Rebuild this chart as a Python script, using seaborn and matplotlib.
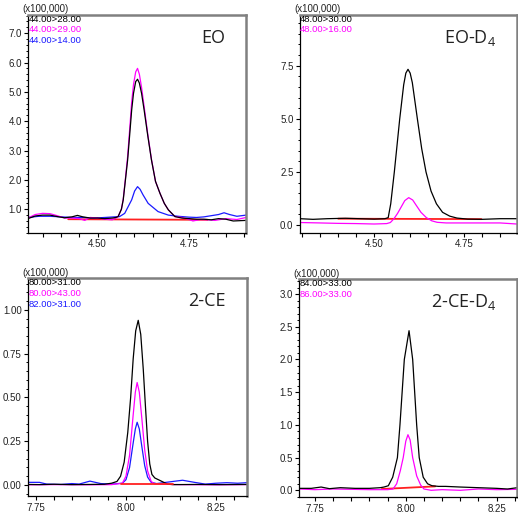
import matplotlib
matplotlib.use("Agg")
import matplotlib.pyplot as plt
import matplotlib.ticker as mticker
import seaborn as sns

# ---- EO (m/z 44 transitions), x = retention time (min), y = intensity (x100,000)
eo_black_x = [4.310, 4.330, 4.350, 4.370, 4.390, 4.410, 4.430, 4.445, 4.460, 4.480, 4.500, 4.520,
              4.540, 4.550, 4.556, 4.565, 4.570, 4.576, 4.582, 4.588, 4.593, 4.598, 4.604, 4.609,
              4.614, 4.620, 4.627, 4.637, 4.647, 4.658, 4.670, 4.682, 4.693, 4.711, 4.730, 4.750,
              4.770, 4.790, 4.810, 4.830, 4.850, 4.870, 4.905]
eo_black_y = [0.68, 0.77, 0.80, 0.80, 0.75, 0.71, 0.74, 0.79, 0.74, 0.70, 0.70, 0.68,
              0.70, 0.72, 0.75, 1.00, 1.32, 2.00, 2.68, 3.60, 4.38, 4.95, 5.35, 5.43,
              5.30, 4.95, 4.38, 3.50, 2.68, 1.95, 1.55, 1.20, 0.98, 0.75, 0.70, 0.68,
              0.66, 0.66, 0.64, 0.68, 0.66, 0.60, 0.62]
eo_magenta_x = [4.310, 4.330, 4.350, 4.370, 4.390, 4.410, 4.430, 4.450, 4.465, 4.480, 4.500, 4.520,
                4.540, 4.550, 4.556, 4.565, 4.570, 4.576, 4.582, 4.588, 4.593, 4.598, 4.604, 4.609,
                4.614, 4.620, 4.627, 4.637, 4.647, 4.658, 4.670, 4.682, 4.693, 4.711, 4.730, 4.750,
                4.760, 4.780, 4.800, 4.820, 4.850, 4.880, 4.905]
eo_magenta_y = [0.70, 0.82, 0.86, 0.85, 0.78, 0.70, 0.70, 0.68, 0.62, 0.72, 0.70, 0.66,
                0.64, 0.70, 0.75, 1.00, 1.35, 2.05, 2.80, 3.80, 4.65, 5.25, 5.68, 5.80,
                5.60, 5.15, 4.50, 3.55, 2.70, 1.95, 1.55, 1.20, 0.98, 0.75, 0.72, 0.65,
                0.60, 0.65, 0.64, 0.62, 0.68, 0.65, 0.72]
eo_blue_x = [4.310, 4.340, 4.370, 4.400, 4.430, 4.460, 4.490, 4.520, 4.545, 4.560, 4.574, 4.593,
             4.601, 4.609, 4.616, 4.624, 4.638, 4.665, 4.693, 4.720, 4.750, 4.770, 4.790, 4.810,
             4.830, 4.845, 4.860, 4.880, 4.905]
eo_blue_y = [0.72, 0.76, 0.76, 0.74, 0.72, 0.72, 0.70, 0.72, 0.74, 0.75, 0.86, 1.32,
             1.62, 1.77, 1.68, 1.49, 1.20, 0.92, 0.80, 0.76, 0.73, 0.72, 0.74, 0.78,
             0.82, 0.88, 0.82, 0.76, 0.80]
eo_red_x = [4.420, 4.800]
eo_red_y = [0.66, 0.64]

# ---- EO-D4 (m/z 48 transitions)
eod4_black_x = [4.294, 4.330, 4.370, 4.420, 4.460, 4.500, 4.530, 4.539, 4.546, 4.556, 4.571, 4.582,
                4.588, 4.594, 4.600, 4.606, 4.620, 4.632, 4.644, 4.658, 4.673, 4.690, 4.710, 4.730,
                4.760, 4.800, 4.850, 4.896]
eod4_black_y = [0.30, 0.27, 0.30, 0.32, 0.30, 0.28, 0.30, 0.35, 1.00, 2.50, 5.00, 6.60,
                7.15, 7.33, 7.15, 6.70, 5.00, 3.60, 2.50, 1.60, 1.00, 0.60, 0.42, 0.33,
                0.28, 0.27, 0.30, 0.30]
eod4_magenta_x = [4.294, 4.350, 4.400, 4.450, 4.500, 4.535, 4.545, 4.555, 4.565, 4.575, 4.585, 4.596,
                  4.607, 4.618, 4.630, 4.645, 4.660, 4.675, 4.700, 4.750, 4.800, 4.850, 4.896]
eod4_magenta_y = [0.12, 0.10, 0.08, 0.07, 0.05, 0.07, 0.12, 0.30, 0.55, 0.85, 1.15, 1.29,
                  1.18, 0.90, 0.60, 0.35, 0.20, 0.13, 0.10, 0.10, 0.10, 0.10, 0.05]
eod4_red_x = [4.400, 4.798]
eod4_red_y = [0.30, 0.28]

# ---- 2-CE (m/z 80/82 transitions)
ce_black_x = [7.729, 7.760, 7.800, 7.850, 7.900, 7.940, 7.960, 7.975, 7.985, 7.995, 8.005, 8.013,
              8.020, 8.027, 8.034, 8.041, 8.048, 8.054, 8.060, 8.066, 8.072, 8.080, 8.090, 8.100,
              8.115, 8.130, 8.200, 8.260, 8.335]
ce_black_y = [0.003, 0.002, 0.004, 0.002, 0.003, 0.004, 0.010, 0.020, 0.050, 0.130, 0.300, 0.500,
              0.720, 0.880, 0.940, 0.860, 0.660, 0.450, 0.250, 0.120, 0.060, 0.040, 0.030, 0.020,
              0.005, 0.002, 0.003, 0.002, 0.003]
ce_magenta_x = [7.729, 7.800, 7.900, 7.960, 7.990, 8.000, 8.010, 8.020, 8.026, 8.031, 8.037, 8.044,
                8.052, 8.060, 8.070, 8.080, 8.150, 8.250, 8.335]
ce_magenta_y = [0.001, 0.002, 0.001, 0.002, 0.010, 0.050, 0.170, 0.400, 0.530, 0.585, 0.530, 0.380,
                0.200, 0.080, 0.020, 0.005, 0.002, 0.001, 0.002]
ce_blue_x = [7.729, 7.760, 7.780, 7.820, 7.850, 7.870, 7.900, 7.930, 7.960, 7.990, 8.000, 8.010,
             8.020, 8.026, 8.031, 8.037, 8.044, 8.052, 8.060, 8.070, 8.085, 8.100, 8.130, 8.157,
             8.190, 8.220, 8.250, 8.280, 8.310, 8.335]
ce_blue_y = [0.015, 0.015, 0.005, 0.003, 0.008, 0.005, 0.022, 0.008, 0.005, 0.010, 0.030, 0.100,
             0.240, 0.320, 0.358, 0.320, 0.220, 0.110, 0.045, 0.015, 0.008, 0.012, 0.020, 0.027,
             0.015, 0.005, 0.010, 0.013, 0.010, 0.013]
ce_red_x = [7.986, 8.131]
ce_red_y = [0.003, 0.003]

# ---- 2-CE-D4 (m/z 84/86 transitions)
ced4_black_x = [7.707, 7.740, 7.767, 7.790, 7.820, 7.860, 7.900, 7.930, 7.940, 7.952, 7.964, 7.977,
                7.984, 7.996, 8.009, 8.019, 8.030, 8.037, 8.048, 8.060, 8.072, 8.090, 8.110, 8.150,
                8.200, 8.250, 8.280, 8.307]
ced4_black_y = [0.03, 0.03, 0.05, 0.025, 0.04, 0.03, 0.03, 0.04, 0.05, 0.07, 0.20, 0.50,
                1.00, 2.00, 2.44, 2.00, 1.00, 0.50, 0.20, 0.10, 0.07, 0.06, 0.06, 0.05,
                0.04, 0.03, 0.02, 0.04]
ced4_magenta_x = [7.707, 7.750, 7.800, 7.850, 7.900, 7.950, 7.965, 7.975, 7.985, 7.993, 8.000, 8.006,
                  8.012, 8.019, 8.030, 8.041, 8.050, 8.070, 8.100, 8.150, 8.200, 8.250, 8.307]
ced4_magenta_y = [0.02, 0.01, 0.02, 0.015, 0.01, 0.01, 0.02, 0.10, 0.30, 0.50, 0.75, 0.85,
                  0.77, 0.50, 0.22, 0.08, 0.02, 0.00, 0.01, 0.00, 0.02, 0.01, 0.015]
ced4_red_x = [7.934, 8.081]
ced4_red_y = [0.02, 0.06]

BLACK, MAGENTA, BLUE, RED = "#000000", "#ff00ff", "#1a1aff", "#ff2020"

panels = [
    dict(pos=[0.0546, 0.5516, 0.4204, 0.4201], xlim=(4.311, 4.905), ylim=(0.20, 7.63),
         xmaj=[4.50, 4.75], xmin=0.05, ymaj=1.0, ymin=0.2, yfmt="%.1f", title="EO",
         traces=[(eo_red_x, eo_red_y, RED, 1.3), (eo_blue_x, eo_blue_y, BLUE, 0.9),
                 (eo_magenta_x, eo_magenta_y, MAGENTA, 0.9), (eo_black_x, eo_black_y, BLACK, 0.9)],
         labels=[("44.00>28.00", BLACK), ("44.00>29.00", MAGENTA), ("44.00>14.00", BLUE)]),
    dict(pos=[0.5792, 0.5516, 0.4183, 0.4201], xlim=(4.294, 4.896), ylim=(-0.36, 9.9),
         xmaj=[4.50, 4.75], xmin=0.05, ymaj=2.5, ymin=0.5, yfmt="%.1f", title="EO-D$_4$",
         traces=[(eod4_red_x, eod4_red_y, RED, 1.3),
                 (eod4_magenta_x, eod4_magenta_y, MAGENTA, 0.9), (eod4_black_x, eod4_black_y, BLACK, 0.9)],
         labels=[("48.00>30.00", BLACK), ("48.00>16.00", MAGENTA)]),
    dict(pos=[0.0546, 0.0443, 0.4217, 0.4195], xlim=(7.729, 8.335), ylim=(-0.063, 1.18),
         xmaj=[7.75, 8.00, 8.25], xmin=0.05, ymaj=0.25, ymin=0.05, yfmt="%.2f", title="2-CE",
         traces=[(ce_blue_x, ce_blue_y, BLUE, 0.9), (ce_magenta_x, ce_magenta_y, MAGENTA, 0.9),
                 (ce_black_x, ce_black_y, BLACK, 0.9), (ce_red_x, ce_red_y, RED, 1.3)],
         labels=[("80.00>31.00", BLACK), ("80.00>43.00", MAGENTA), ("82.00>31.00", BLUE)]),
    dict(pos=[0.5778, 0.0418, 0.4209, 0.4206], xlim=(7.707, 8.307), ylim=(-0.107, 3.23),
         xmaj=[7.75, 8.00, 8.25], xmin=0.05, ymaj=0.5, ymin=0.1, yfmt="%.1f", title="2-CE-D$_4$",
         traces=[(ced4_red_x, ced4_red_y, RED, 1.3),
                 (ced4_magenta_x, ced4_magenta_y, MAGENTA, 0.9), (ced4_black_x, ced4_black_y, BLACK, 0.9)],
         labels=[("84.00>33.00", BLACK), ("86.00>33.00", MAGENTA)]),
]

sns.set_style("ticks")
plt.rcParams["font.family"] = ["Liberation Sans", "DejaVu Sans"]
plt.rcParams["mathtext.default"] = "regular"

fig = plt.figure(figsize=(5.18, 5.19), dpi=100)

for p in panels:
    ax = fig.add_axes(p["pos"])
    for xs, ys, col, lw in p["traces"]:
        sns.lineplot(x=xs, y=ys, ax=ax, color=col, linewidth=lw, sort=False, estimator=None)
    ax.set_xlim(*p["xlim"])
    ax.set_ylim(*p["ylim"])
    ax.xaxis.set_major_locator(mticker.FixedLocator(p["xmaj"]))
    ax.xaxis.set_major_formatter(mticker.FormatStrFormatter("%.2f"))
    ax.xaxis.set_minor_locator(mticker.MultipleLocator(p["xmin"]))
    ax.yaxis.set_major_locator(mticker.MultipleLocator(p["ymaj"]))
    ax.yaxis.set_major_formatter(mticker.FormatStrFormatter(p["yfmt"]))
    ax.yaxis.set_minor_locator(mticker.MultipleLocator(p["ymin"]))
    ax.tick_params(axis="both", which="major", direction="out", length=3.2, width=0.8,
                   color="black", labelsize=7, labelcolor="#222222", pad=1.5)
    ax.tick_params(axis="x", which="minor", direction="out", length=3.2, width=0.8, color="black")
    ax.tick_params(axis="y", which="minor", direction="out", length=1.8, width=0.7, color="black")
    for s in ("left", "bottom"):
        ax.spines[s].set_color("black")
        ax.spines[s].set_linewidth(0.9)
    for s in ("top", "right"):
        ax.spines[s].set_visible(True)
        ax.spines[s].set_color("#808080")
        ax.spines[s].set_linewidth(1.8)
    ax.set_xlabel("")
    ax.set_ylabel("")

    ax.annotate("(x100,000)", xy=(0, 1), xycoords="axes fraction", xytext=(-4, 3.8),
                textcoords="offset points", ha="left", va="center", fontsize=7, color="#222222")
    for i, (txt, col) in enumerate(p["labels"]):
        ax.annotate(txt, xy=(0, 1), xycoords="axes fraction", xytext=(0.2, -3.2 - 7.8 * i),
                    textcoords="offset points", ha="left", va="center", fontsize=6.8, color=col)
    ax.text(0.905, 0.895, p["title"], transform=ax.transAxes, ha="right", va="center",
            fontsize=13, color="#222222", family=["Open Sans", "DejaVu Sans"])

fig.savefig("out.png", dpi=100)
